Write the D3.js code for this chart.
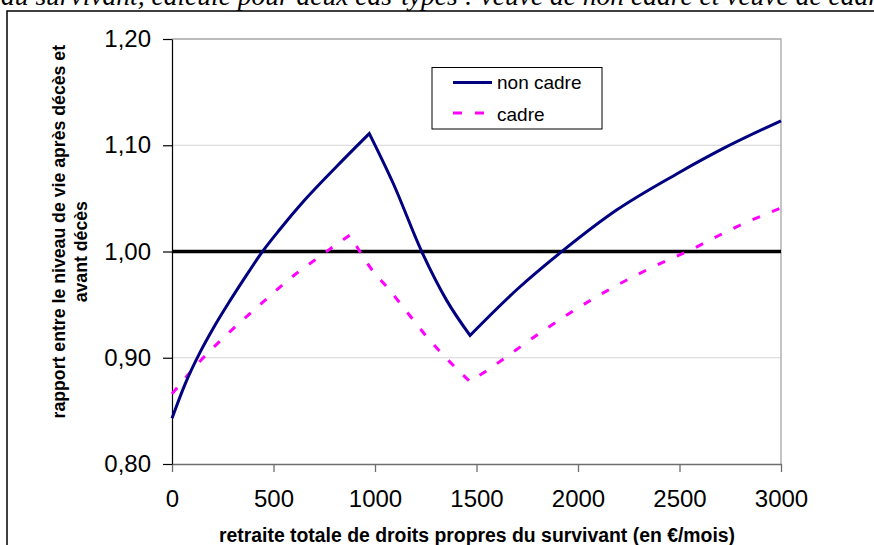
<!DOCTYPE html>
<html><head><meta charset="utf-8">
<script src="https://cdn.jsdelivr.net/npm/d3@7"></script>
<style>
body{margin:0;background:#fff;}
svg{display:block;}
text{font-family:"Liberation Sans",Arial,sans-serif;}
</style></head>
<body>
<svg id="c" width="874" height="545"></svg>
<script>
// ---- data ----
const nonCadreX = [0, 64, 138, 204, 277, 351, 442, 532, 647, 811, 972, 1090, 1230, 1353, 1468, 1698, 1927, 2190, 2486, 2716, 3000];
const nonCadreY = [0.843, 0.875, 0.905, 0.928, 0.951, 0.973, 0.999, 1.021, 1.047, 1.080, 1.111, 1.064, 1.000, 0.954, 0.921, 0.964, 1.001, 1.039, 1.073, 1.097, 1.123];
const cadreX = [0, 154, 294, 458, 614, 704, 787, 877, 992, 1057, 1189, 1254, 1336, 1468, 1567, 1821, 2092, 2371, 2560, 2765, 3000];
const cadreY = [0.866, 0.900, 0.926, 0.954, 0.9795, 0.992, 1.0036, 1.0155, 0.981, 0.967, 0.9355, 0.920, 0.9026, 0.8775, 0.890, 0.9245, 0.9575, 0.9857, 1.002, 1.0218, 1.041];
const refX = [0, 3000];
const refY = [1.00, 1.00];
const xTicks = [0, 500, 1000, 1500, 2000, 2500, 3000];
const yTicks = [0.80, 0.90, 1.00, 1.10, 1.20];
const seriesNames = ["non cadre", "cadre"];
const yTitleLines = ["rapport entre le niveau de vie après décès et", "avant décès"];
const xTitle = "retraite totale de droits propres du survivant (en €/mois)";
const topText = "au survivant, calculé pour deux cas-types : veuve de non cadre et veuve de cadre";

const svg = d3.select("#c");
const x = d3.scaleLinear().domain([0, 3000]).range([172, 781]);
const y = d3.scaleLinear().domain([0.80, 1.20]).range([464, 39]);
const loc = d3.formatLocale({decimal: ",", thousands: " ", grouping: [3], currency: ["", "€"]});
const fy = loc.format(".2f");

// cut-off caption at top (the reference only shows its lower part)
svg.append("text").attr("x", 1).attr("y", 5)
  .style("font-family", "'Liberation Serif','Times New Roman',serif")
  .style("font-style", "italic").style("font-size", "27.5px")
  .text(topText);

// outer frame
svg.append("rect").attr("x", 7).attr("y", 11).attr("width", 900).attr("height", 600)
  .attr("fill", "none").attr("stroke", "#000").attr("stroke-width", 1.5);

// gridlines
svg.append("g").selectAll("line").data(yTicks.filter(d => d > 0.8 && d < 1.2)).join("line")
  .attr("x1", x(0)).attr("x2", x(3000)).attr("y1", d => y(d)).attr("y2", d => y(d))
  .attr("stroke", "#d4d4d4").attr("stroke-width", 1);

// plot border top/right
svg.append("path")
  .attr("d", `M${x(0)},${y(1.2)}H${x(3000)}V${y(0.8)}`)
  .attr("fill", "none").attr("stroke", "#a6a6a6").attr("stroke-width", 1.3);

// axes
const gx = svg.append("g").attr("transform", `translate(0,${y(0.8)})`)
  .call(d3.axisBottom(x).tickValues(xTicks).tickFormat(d3.format("d")).tickSize(8).tickPadding(18).tickSizeOuter(0));
gx.select(".domain").attr("stroke", "#6e6e6e").attr("stroke-width", 1.3);
gx.selectAll(".tick line").attr("stroke", "#6e6e6e").attr("stroke-width", 1.3);
gx.selectAll("text").style("font-size", "24px").attr("fill", "#000");

const gy = svg.append("g").attr("transform", `translate(${x(0)},0)`)
  .call(d3.axisLeft(y).tickValues(yTicks).tickFormat(fy).tickSize(9).tickPadding(12).tickSizeOuter(0));
gy.select(".domain").attr("stroke", "#000").attr("stroke-width", 1.2);
gy.selectAll(".tick line").attr("stroke", "#000").attr("stroke-width", 1.2);
gy.selectAll("text").style("font-size", "24px").attr("fill", "#000");

// reference line 1.00
const line = d3.line().x(d => x(d[0])).y(d => y(d[1]));
svg.append("path").datum(refX.map((v, i) => [v, refY[i]]))
  .attr("d", line).attr("fill", "none").attr("stroke", "#000").attr("stroke-width", 3.5);

// smooth within monotonic runs, sharp corners at the turning points
const smooth = d3.line().x(d => x(d[0])).y(d => y(d[1])).curve(d3.curveMonotoneX);
function pathFor(xs, ys) {
  const pts = xs.map((v, i) => [v, ys[i]]);
  const segs = [];
  let start = 0;
  for (let i = 1; i < pts.length - 1; i++) {
    const a = pts[i][1] - pts[i - 1][1], b = pts[i + 1][1] - pts[i][1];
    if (a * b < 0) { segs.push(pts.slice(start, i + 1)); start = i; }
  }
  segs.push(pts.slice(start));
  return segs.map((s, k) => {
    const d = smooth(s);
    return k === 0 ? d : "L" + d.slice(1);
  }).join("");
}

// series
svg.append("path").attr("d", pathFor(cadreX, cadreY))
  .attr("fill", "none").attr("stroke", "#ff00ff").attr("stroke-width", 3)
  .attr("stroke-dasharray", "8,13");
svg.append("path").attr("d", pathFor(nonCadreX, nonCadreY))
  .attr("fill", "none").attr("stroke", "#000080").attr("stroke-width", 3)
  .attr("stroke-linejoin", "miter");

// legend
const lg = svg.append("g");
lg.append("rect").attr("x", 432).attr("y", 67.5).attr("width", 170).attr("height", 61.5)
  .attr("fill", "#fff").attr("stroke", "#000").attr("stroke-width", 1);
lg.append("line").attr("x1", 453).attr("x2", 492).attr("y1", 82.5).attr("y2", 82.5)
  .attr("stroke", "#000080").attr("stroke-width", 3);
lg.append("line").attr("x1", 453).attr("x2", 492).attr("y1", 113).attr("y2", 113)
  .attr("stroke", "#ff00ff").attr("stroke-width", 3).attr("stroke-dasharray", "9,13");
lg.selectAll("text.l").data(seriesNames).join("text").attr("class", "l")
  .attr("x", 497).attr("y", (d, i) => 89 + i * 31.5)
  .style("font-size", "19px").text(d => d);

// axis titles
svg.append("text").attr("x", 477).attr("y", 541.5).attr("text-anchor", "middle")
  .style("font-size", "19.4px").style("font-weight", "bold").text(xTitle);
const yt = [[65, 231.7], [87, 251.7]];
svg.selectAll("text.yt").data(yTitleLines).join("text").attr("class", "yt")
  .attr("transform", (d, i) => `translate(${yt[i][0]},${yt[i][1]}) rotate(-90)`)
  .attr("text-anchor", "middle")
  .style("font-size", "17.7px").style("font-weight", "bold").text(d => d);
</script>
</body></html>
